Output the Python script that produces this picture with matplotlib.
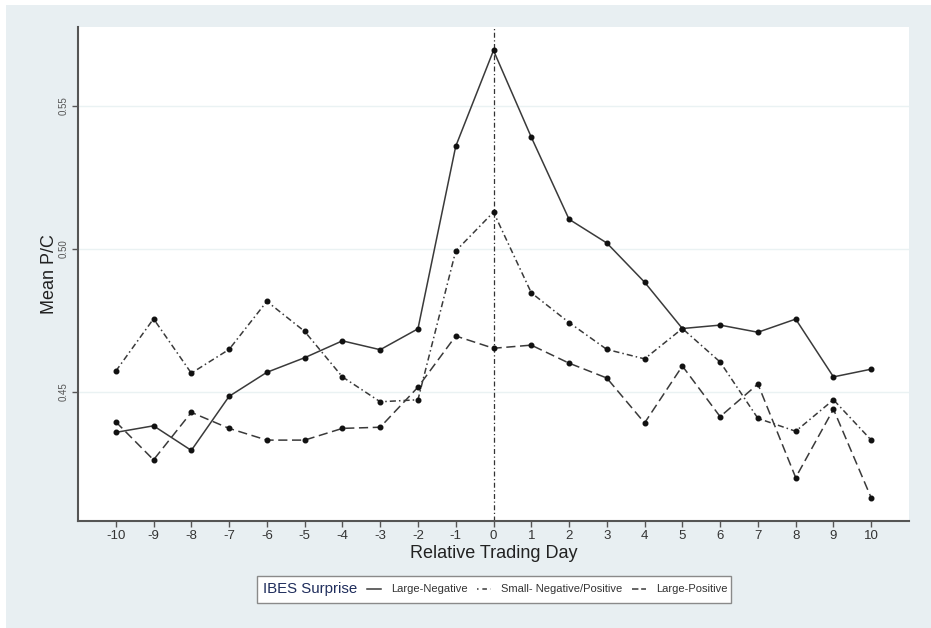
import matplotlib
matplotlib.use('Agg')
import matplotlib.pyplot as plt
from matplotlib.patches import Rectangle
from matplotlib.lines import Line2D

plt.rcParams['font.family'] = ['Liberation Sans', 'DejaVu Sans']

days = list(range(-10, 11))
large_neg = [0.4358, 0.4381, 0.4295, 0.4484, 0.4568, 0.4619, 0.4678, 0.4647, 0.4720, 0.5358,
             0.5693, 0.5390, 0.5103, 0.5020, 0.4883, 0.4721, 0.4733, 0.4708, 0.4754, 0.4552, 0.4579]
small_neg_pos = [0.4572, 0.4755, 0.4565, 0.4648, 0.4816, 0.4711, 0.4552, 0.4465, 0.4472, 0.4992,
                 0.5128, 0.4846, 0.4742, 0.4648, 0.4615, 0.4721, 0.4604, 0.4407, 0.4362, 0.4472, 0.4331]
large_pos = [0.4395, 0.4262, 0.4428, 0.4372, 0.4331, 0.4331, 0.4372, 0.4376, 0.4516, 0.4695,
             0.4652, 0.4663, 0.4600, 0.4548, 0.4391, 0.4590, 0.4413, 0.4527, 0.4200, 0.4439, 0.4129]
series_labels = ['Large-Negative', 'Small- Negative/Positive', 'Large-Positive']
yticks = [0.45, 0.50, 0.55]

W, H = 931, 628
fig = plt.figure(figsize=(W / 100, H / 100), dpi=100, facecolor='white')
panel_col = '#e8eff2'
fig.patches.append(Rectangle((6 / W, 0), 1, (H - 5) / H, transform=fig.transFigure,
                             facecolor=panel_col, edgecolor='none', zorder=-10))

ax = fig.add_axes([78 / W, 1 - 520.5 / H, (909 - 78) / W, (520.5 - 27) / H])
ax.set_facecolor('white')

line_col = '#3a3a3a'
styles = ['-', (0, (4, 2, 1, 2)), (0, (6, 3))]
for vals, ls, lab in zip([large_neg, small_neg_pos, large_pos], styles, series_labels):
    ax.plot(days, vals, color=line_col, lw=1.1, linestyle=ls, marker='o', markersize=3.3,
            markerfacecolor='#111111', markeredgecolor='#111111', label=lab, zorder=3)

ax.axvline(0, color='#333333', lw=0.9, linestyle=(0, (4, 2, 1, 2)), zorder=2)

ax.set_xlim(-11, 11)
ax.set_ylim(0.405, 0.5775)
ax.set_xticks(days)
ax.set_xticklabels([str(d) for d in days], fontsize=9.5, color='#333333')
ax.set_yticks(yticks)
ax.set_yticklabels(['%.2f' % v for v in yticks], fontsize=7, color='#555555',
                   rotation=90, va='center')
ax.grid(axis='y', color='#eaf2f3', lw=1.0, zorder=0)
ax.grid(axis='x', visible=False)
for s in ['top', 'right']:
    ax.spines[s].set_visible(False)
for s in ['left', 'bottom']:
    ax.spines[s].set_color('#555555')
    ax.spines[s].set_linewidth(1.5)
ax.tick_params(axis='both', length=4, width=1, color='#555555')
ax.tick_params(axis='x', pad=3)
ax.tick_params(axis='y', pad=3)

ax.set_xlabel('Relative Trading Day', fontsize=13, color='#222222', labelpad=2)
ax.set_ylabel('Mean P/C', fontsize=13, color='#222222', labelpad=0)

# legend box
fig.patches.append(Rectangle((257 / W, 1 - 603 / H), (731 - 257) / W, 27 / H,
                             transform=fig.transFigure, facecolor='white',
                             edgecolor='#8a8a8a', lw=1.0, zorder=1))
fig.text(263 / W, 1 - 589 / H, 'IBES Surprise', fontsize=10.8, color='#1f2d5c',
         va='center', ha='left', zorder=2)
leg_styles = ['-', (0, (1, 2.5, 3, 2.5, 1, 5)), (0, (4.2, 1.8))]
handles = [Line2D([], [], color=line_col, lw=1.1, linestyle=ls) for ls in leg_styles]
leg = fig.legend(handles, series_labels, loc='center left', ncol=3,
                 bbox_to_anchor=(367 / W, 1 - 589.5 / H), frameon=False,
                 fontsize=8, handlelength=1.3, handletextpad=0.9, columnspacing=0.8,
                 borderpad=0, borderaxespad=0)
for t in leg.get_texts():
    t.set_color('#333333')
leg.set_zorder(3)

fig.savefig('out.png', dpi=100, facecolor='white')
